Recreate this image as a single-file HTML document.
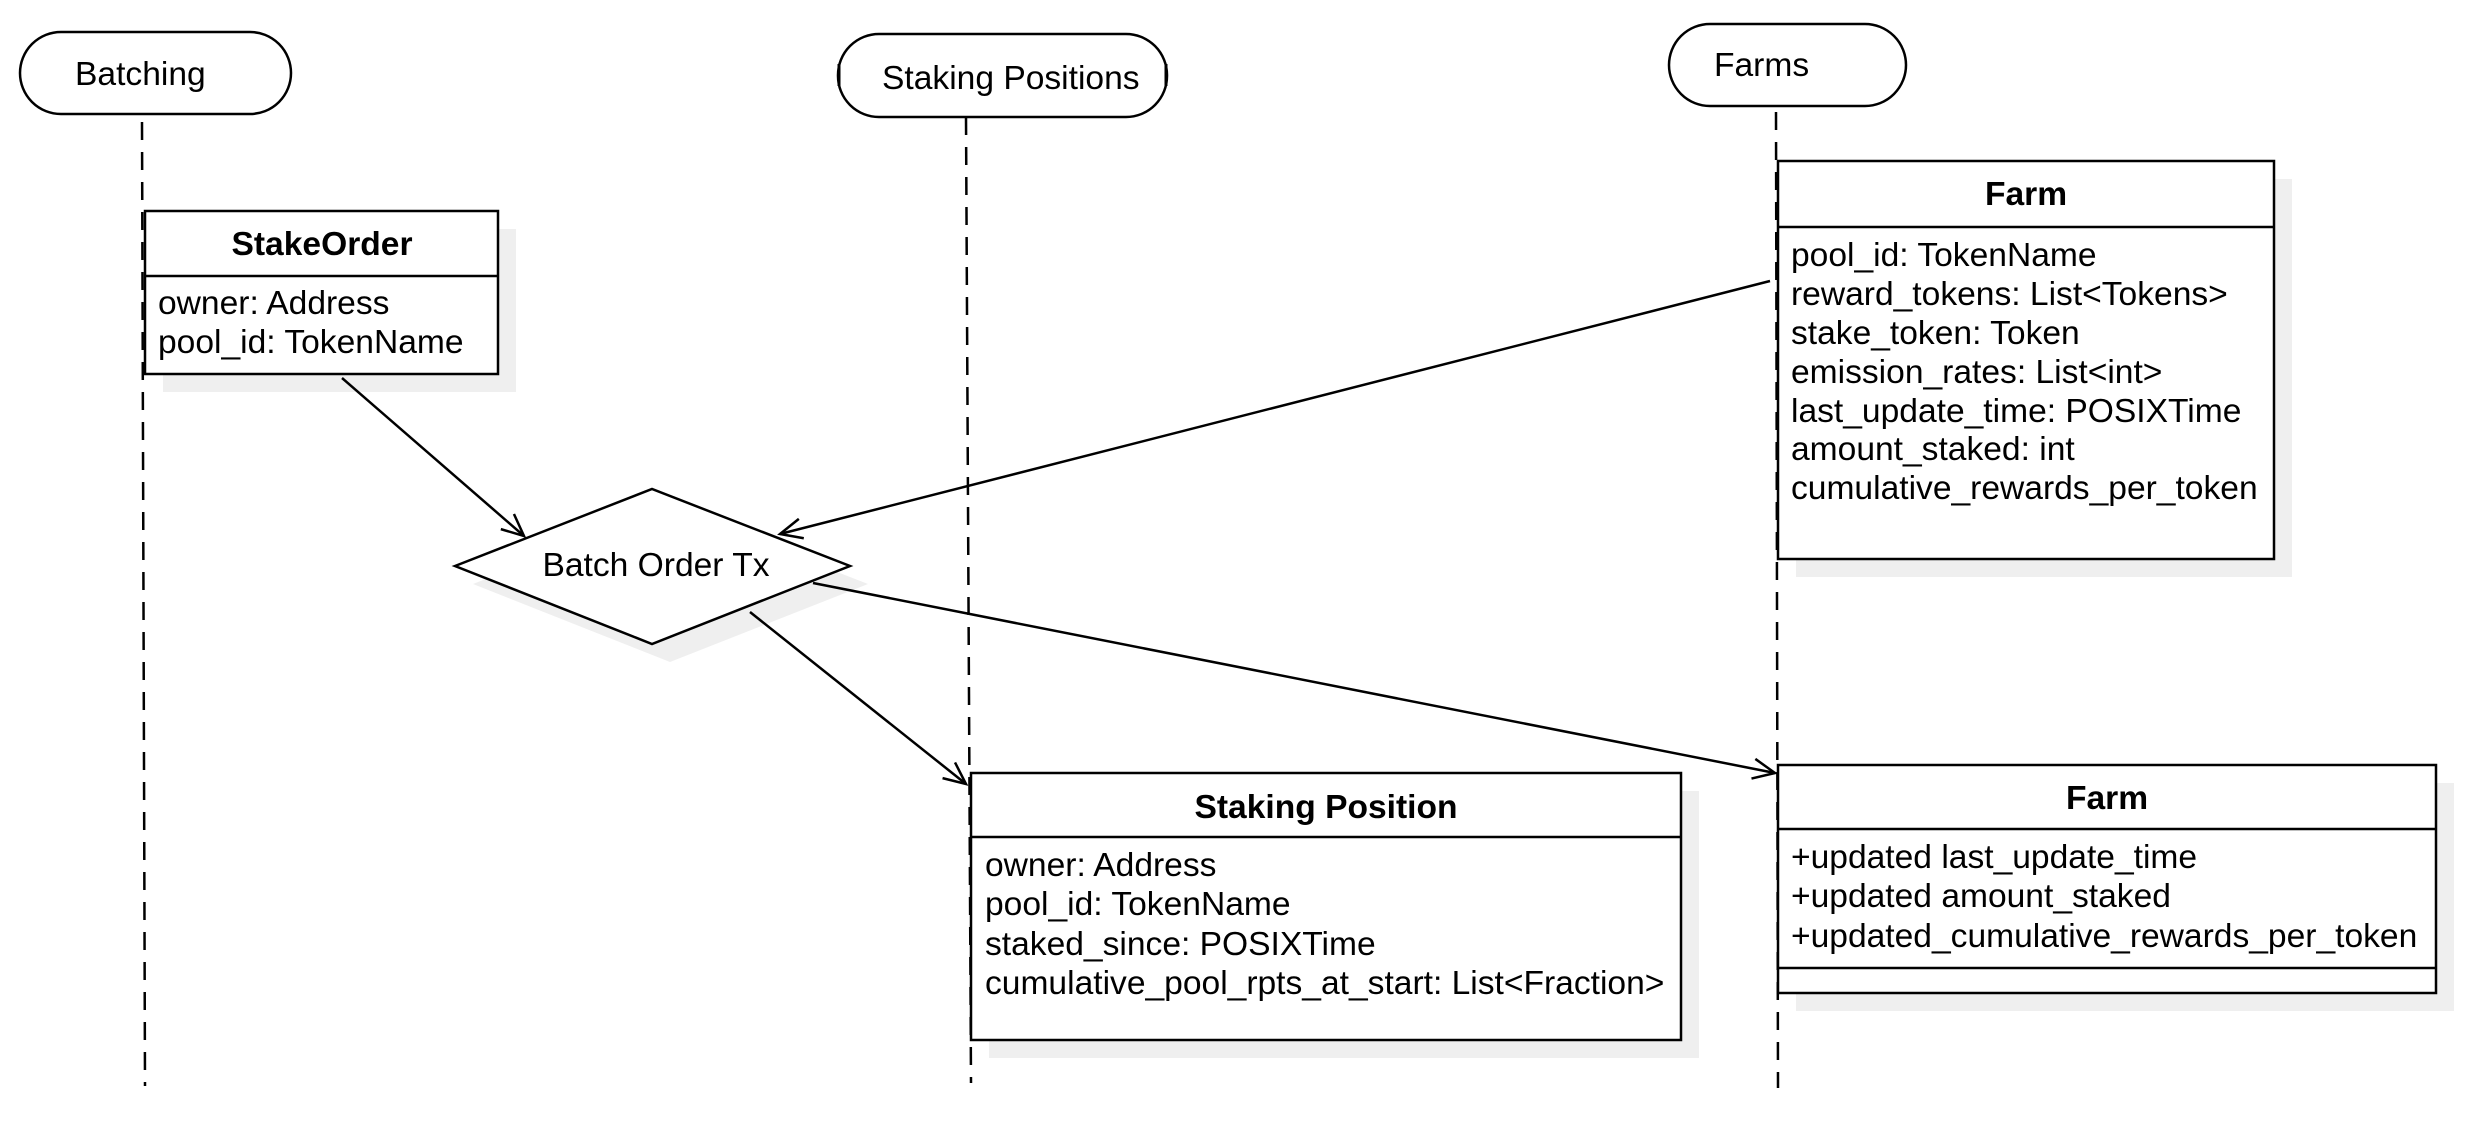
<!DOCTYPE html>
<html><head><meta charset="utf-8"><style>html,body{margin:0;padding:0;background:#fff}svg{display:block}</style></head>
<body>
<svg width="2478" height="1128" viewBox="0 0 2478 1128" xmlns="http://www.w3.org/2000/svg" font-family="Liberation Sans, sans-serif" font-size="33.6">
<defs>
<marker id="a" markerUnits="userSpaceOnUse" markerWidth="40" markerHeight="40" refX="0" refY="0" viewBox="-30 -20 40 40" orient="auto"><path d="M-22,-10 L0,0 L-22,10" fill="none" stroke="#000" stroke-width="2.5"/></marker>
</defs>
<g stroke="#000" stroke-width="2.5" fill="none" stroke-dasharray="18,12">
<line x1="142" y1="122" x2="145" y2="1086"/>
<line x1="966" y1="117" x2="971" y2="1083"/>
<line x1="1776" y1="112" x2="1778" y2="1088"/>
</g>
<g fill="#efefef">
<rect x="163" y="229" width="353" height="163"/>
<polygon points="473,584 670,507 868,584 670,662"/>
<rect x="989" y="791" width="710" height="267"/>
<rect x="1796" y="179" width="496" height="398"/>
<rect x="1796" y="783" width="658" height="228"/>
</g>
<g stroke="#000" stroke-width="2.5" fill="#fff">
<rect x="20" y="32" width="271" height="82" rx="41"/>
<rect x="838" y="34" width="329" height="83" rx="41"/>
<rect x="1669" y="24" width="237" height="82" rx="41"/>
<rect x="145" y="211" width="353" height="163"/>
<line x1="145" y1="276" x2="498" y2="276"/>
<polygon points="455,566 652,489 850,566 652,644"/>
<rect x="971" y="773" width="710" height="267"/>
<line x1="971" y1="837" x2="1681" y2="837"/>
<rect x="1778" y="161" width="496" height="398"/>
<line x1="1778" y1="227" x2="2274" y2="227"/>
<rect x="1778" y="765" width="658" height="228"/>
<line x1="1778" y1="829" x2="2436" y2="829"/>
<line x1="1778" y1="968" x2="2436" y2="968"/>
</g>
<g stroke="#000" stroke-width="3">
<line x1="839" y1="64" x2="839" y2="86"/>
<line x1="1166" y1="64" x2="1166" y2="86"/>
</g>
<g stroke="#000" stroke-width="2.5" fill="none" marker-end="url(#a)">
<line x1="342" y1="378" x2="524" y2="536"/>
<line x1="750" y1="612" x2="966" y2="784"/>
<line x1="1770" y1="281" x2="780" y2="534"/>
<line x1="813" y1="583" x2="1775" y2="773"/>
</g>
<g fill="#000">
<text x="75" y="85">Batching</text>
<text x="882" y="89">Staking Positions</text>
<text x="1714" y="76">Farms</text>
<text x="322" y="255" font-weight="bold" text-anchor="middle">StakeOrder</text>
<text x="158" y="314">owner: Address</text>
<text x="158" y="353">pool_id: TokenName</text>
<text x="656" y="576" text-anchor="middle">Batch Order Tx</text>
<text x="1326" y="818" font-weight="bold" text-anchor="middle">Staking Position</text>
<text x="985" y="876">owner: Address</text>
<text x="985" y="915">pool_id: TokenName</text>
<text x="985" y="955">staked_since: POSIXTime</text>
<text x="985" y="994">cumulative_pool_rpts_at_start: List&lt;Fraction&gt;</text>
<text x="2026" y="205" font-weight="bold" text-anchor="middle">Farm</text>
<text x="1791" y="266">pool_id: TokenName</text>
<text x="1791" y="305">reward_tokens: List&lt;Tokens&gt;</text>
<text x="1791" y="344">stake_token: Token</text>
<text x="1791" y="383">emission_rates: List&lt;int&gt;</text>
<text x="1791" y="422">last_update_time: POSIXTime</text>
<text x="1791" y="460">amount_staked: int</text>
<text x="1791" y="499">cumulative_rewards_per_token</text>
<text x="2107" y="809" font-weight="bold" text-anchor="middle">Farm</text>
<text x="1791" y="868">+updated last_update_time</text>
<text x="1791" y="907">+updated amount_staked</text>
<text x="1791" y="947">+updated_cumulative_rewards_per_token</text>
</g>
</svg>
</body></html>
